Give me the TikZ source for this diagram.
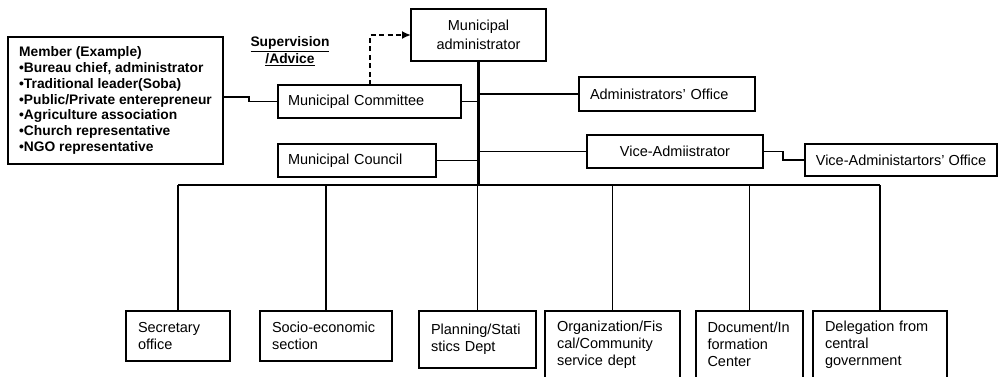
\documentclass[tikz,border=0pt]{standalone}
\usepackage{fontspec}
\setmainfont{Liberation Sans}
\usetikzlibrary{arrows.meta}
\exhyphenpenalty=10000
\hyphenpenalty=10000
\begin{document}
\begin{tikzpicture}[x=1pt,y=-1pt,
  font=\fontsize{14.5}{17}\selectfont,
  box/.style={draw, line width=1.4pt, anchor=north west, inner sep=0pt, outer sep=0pt},
  conn/.style={line width=1.35pt},
  spine/.style={line width=2.6pt},
  busline/.style={line width=2pt},
  advice/.style={line width=2pt, dash pattern=on 5pt off 3.5pt,
                 -{Latex[length=9pt,width=8pt]}}]
\useasboundingbox (0,0) rectangle (1000,376);

% top of the hierarchy
\node[box, minimum width=135, minimum height=52, align=center,
      font=\fontsize{14.5}{18.5}\selectfont] (admin) at (411,9)
  {Municipal\\administrator};

% member list
\node[box, minimum width=215, minimum height=127, align=left,
      font=\bfseries\fontsize{13.8}{15.8}\selectfont] (member) at (8,37)
  {Member (Example)\\
   •Bureau chief, administrator\\
   •Traditional leader(Soba)\\
   •Public/Private enterepreneur\\
   •Agriculture association\\
   •Church representative\\
   •NGO representative};

\node[font=\bfseries\fontsize{13.8}{16.5}\selectfont, align=center] (sup) at (290,51)
  {\underline{Supervision}\\\underline{/Advice}};

% second level
\node[box, minimum width=183, minimum height=33, text width=163, align=left] (committee) at (278,85) {Municipal Committee};
\node[box, minimum width=158, minimum height=33, text width=138, align=left] (council) at (278,144) {Municipal Council};
\node[box, minimum width=176, minimum height=34, text width=154, align=left] (office) at (579,77) {Administrators' Office};
\node[box, minimum width=176, minimum height=33, align=center] (vice) at (587,135) {Vice-Admiistrator};
\node[box, minimum width=192, minimum height=32, align=center] (viceoffice) at (805,144) {Vice-Administartors' Office};

% departments
\node[box, minimum width=104, minimum height=50, text width=80,  align=left] (b1) at (126,311) {Secretary\\office};
\node[box, minimum width=132, minimum height=50, text width=108, align=left] (b2) at (260,311) {Socio-economic\\section};
\node[box, minimum width=117, minimum height=57, text width=93,  align=left] (b3) at (419,311) {Planning/Stati\\stics Dept};
\node[box, minimum width=135, minimum height=67, text width=111, align=left] (b4) at (545,311) {Organization/Fis\\cal/Community\\service dept};
\node[box, minimum width=107, minimum height=67, text width=84,  align=left] (b5) at (696,311) {Document/In\\formation\\Center};
\node[box, minimum width=134, minimum height=67, text width=110, align=left] (b6) at (813,311) {Delegation from\\central\\government};

\coordinate (bus) at (0,185);

% spine and branches
\draw[spine] (admin.south) -- (admin.south |- bus);
\draw[conn] (committee.east) -- (committee.east -| admin.south);
\draw[conn] (council.east) -- (council.east -| admin.south);
\draw[conn] (office.west) -- (office.west -| admin.south);
\draw[conn] (vice.west) -- (vice.west -| admin.south);
\draw[conn] (vice.east) -- ++(20,0) |- (viceoffice.west);
\draw[conn] ([yshift=3.5pt]member.east) -- ++(26,0) |- (committee.west);
\draw[advice] (committee.north) |- (admin.west);

% department bus
\draw[busline] (b1.north |- bus) -- (b6.north |- bus);
\foreach \b in {b1,b2,b3,b4,b5,b6}
  \draw[conn] (\b.north) -- (\b.north |- bus);
\end{tikzpicture}
\end{document}
